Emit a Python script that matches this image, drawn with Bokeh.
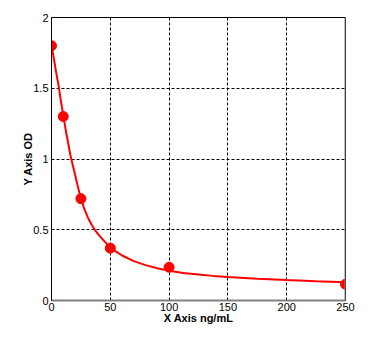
from bokeh.plotting import figure
from bokeh.models import Range1d, FixedTicker, Span
from bokeh.embed import file_html
from bokeh.resources import INLINE

# Measured standard points
conc = [0, 10, 25, 50, 100, 250]
od = [1.80, 1.30, 0.72, 0.37, 0.235, 0.115]

# Fitted curve
curve_x = [0, 2, 4, 6, 8, 10, 12, 14, 16, 18, 20, 22, 25, 28, 31, 34, 37, 40, 45,
           50, 55, 60, 70, 80, 90, 100, 112, 125, 137, 150, 175, 200, 225, 250]
curve_y = [1.80, 1.71, 1.61, 1.52, 1.41, 1.31, 1.21, 1.12, 1.03, 0.96, 0.89, 0.82,
           0.72, 0.645, 0.585, 0.537, 0.498, 0.465, 0.418, 0.378, 0.345, 0.318, 0.278,
           0.25, 0.228, 0.21, 0.195, 0.184, 0.174, 0.166, 0.153, 0.144, 0.136, 0.129]

x_ticks = [0, 50, 100, 150, 200, 250]
y_ticks = [0, 0.5, 1, 1.5, 2]
y_tick_labels = ["0", "0.5", "1", "1.5", "2"]

FONT = "Liberation Sans"

p = figure(width=388, height=337, output_backend="svg", toolbar_location=None,
           x_range=Range1d(0, 250), y_range=Range1d(0, 2),
           min_border_left=51, min_border_right=43, min_border_top=17,
           min_border_bottom=37)
p.background_fill_color = "white"
p.border_fill_color = "white"
p.outline_line_color = "black"
p.outline_line_width = 1

for ax in (p.xaxis, p.yaxis):
    ax.major_tick_out = 0
    ax.major_tick_in = 0
    ax.minor_tick_out = 0
    ax.minor_tick_in = 0
    ax.major_label_text_font = FONT
    ax.major_label_text_font_size = "11px"
    ax.major_label_text_color = "black"
    ax.axis_label_text_font = FONT
    ax.axis_label_text_font_size = "11px"
    ax.axis_label_text_font_style = "bold"
    ax.axis_label_text_color = "black"

p.xaxis.ticker = FixedTicker(ticks=x_ticks)
p.yaxis.ticker = FixedTicker(ticks=y_ticks)
p.yaxis.major_label_overrides = {t: l for t, l in zip(y_ticks, y_tick_labels)}
p.xaxis.axis_label = "X Axis ng/mL"
p.yaxis.axis_label = "Y Axis OD"
p.xaxis.axis_line_color = "#808080"
p.xaxis.axis_line_width = 2
p.yaxis.axis_line_color = "black"
p.xaxis.major_label_standoff = 2
p.yaxis.major_label_standoff = 3
p.xaxis.axis_label_standoff = -2
p.yaxis.axis_label_standoff = -4

p.grid.grid_line_color = "black"
p.grid.grid_line_dash = "3 2"
p.grid.grid_line_width = 1

p.add_layout(Span(location=250, dimension="height", line_color="#808080", line_width=2))

p.line(curve_x, curve_y, line_color="#ff0000", line_width=2)
p.scatter(conc, od, size=10, fill_color="#ff0000", line_color="#ff0000")

open("out.html", "w").write(file_html(p, INLINE))
